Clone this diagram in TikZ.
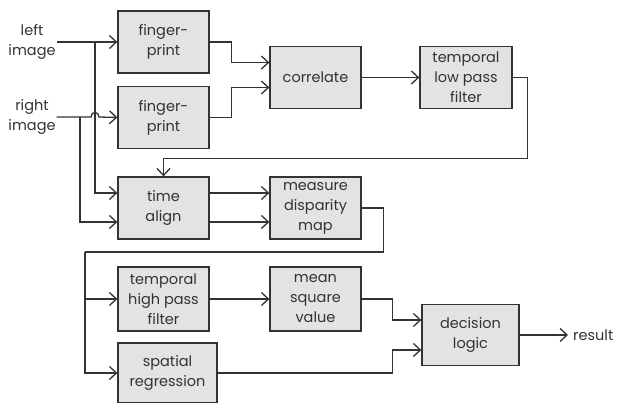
\documentclass[tikz,border=0pt]{standalone}
\usepackage{fontspec}
\setmainfont{Poppins}
\usetikzlibrary{arrows.meta,calc}

\definecolor{ink}{HTML}{333333}
\definecolor{boxfill}{HTML}{E3E3E3}

\tikzset{
    block/.style={draw=ink, fill=boxfill, line width=1.3pt, text=ink, align=center,
        minimum width=91pt, minimum height=62pt, inner sep=1pt,
        font=\fontsize{14.5}{20}\selectfont},
    inlabel/.style={text=ink, align=center, inner sep=1pt,
        font=\fontsize{14.5}{20}\selectfont},
    plain/.style={draw=ink, line width=1.3pt},
    wire/.style={plain, -{Straight Barb[length=7pt,width=13pt,line width=1.3pt]}}
}

\begin{document}
\begin{tikzpicture}[x=1pt,y=-1pt]
    \fill[white] (0,0) rectangle (619,403);
    \useasboundingbox (0,0) rectangle (619,403);

    % Inputs
    \node[inlabel] (limg) at (32,42) {left\\image};
    \node[inlabel] (rimg) at (32,117) {right\\image};

    % Blocks
    \node[block] (fp1) at (163.5,42) {finger-\\print};
    \node[block] (fp2) at (163.5,117.5) {finger-\\print};
    \node[block] (corr) at (315.5,77.5) {correlate};
    \node[block, minimum width=92pt] (tlpf) at (466,77.5) {temporal\\low pass\\filter};
    \node[block] (talign) at (163.5,208) {time\\align};
    \node[block] (mdm) at (315.5,208) {measure\\disparity\\map};
    \node[block, minimum height=64pt] (thpf) at (163.5,299) {temporal\\high pass\\filter};
    \node[block, minimum height=64pt] (msv) at (315.5,299) {mean\\square\\value};
    \node[block, minimum width=99pt, minimum height=60pt] (sr) at (167.5,373) {spatial\\regression};
    \node[block, minimum width=97pt, minimum height=61pt] (dl) at (470.5,335) {decision\\logic};
    \node[inlabel, anchor=west] (res) at (572,335) {result};

    % Branch points
    \coordinate (jl) at (95,42);
    \coordinate (jr) at (80,117);
    \coordinate (bus) at (85,252);

    % Image inputs
    \draw[wire] (limg.east) -- (fp1.west);
    \draw[wire] (jl) |- ([yshift=15pt]talign.west);
    \draw[wire] (rimg.east) -- ($(jl |- rimg)+(-4,0)$)
        .. controls +(0,-6) and +(0,-6) .. ($(jl |- rimg)+(4,0)$) -- (fp2.west);
    \draw[wire] (jr) |- ([yshift=-14pt]talign.west);

    % Fingerprint path
    \draw[wire] (fp1.east) -- ++(22,0) |- ([yshift=15pt]corr.west);
    \draw[wire] (fp2.east) -- ++(22,0) |- ([yshift=-10pt]corr.west);
    \draw[wire] (corr) -- (tlpf);
    \draw[wire] (tlpf.east) -- ++(15,0) -- ++(0,81) -| (talign.north);

    % Alignment and disparity
    \draw[wire] ([yshift=15pt]talign.east) -- ([yshift=15pt]mdm.west);
    \draw[wire] ([yshift=-14pt]talign.east) -- ([yshift=-14pt]mdm.west);
    \draw[plain] (mdm.east) -- ++(22,0) |- (bus);
    \draw[wire] (bus) |- (sr.west);
    \draw[wire] (bus |- thpf.west) -- (thpf.west);

    % Decision
    \draw[wire] (thpf) -- (msv);
    \draw[wire] (msv.east) -- ++(31,0) |- ([yshift=15pt]dl.west);
    \draw[wire] (sr.east) -- ++(175,0) |- ([yshift=-15pt]dl.west);
    \draw[wire, line width=1.7pt] (dl.east) -- ([xshift=-4pt]res.west);

\end{tikzpicture}
\end{document}
